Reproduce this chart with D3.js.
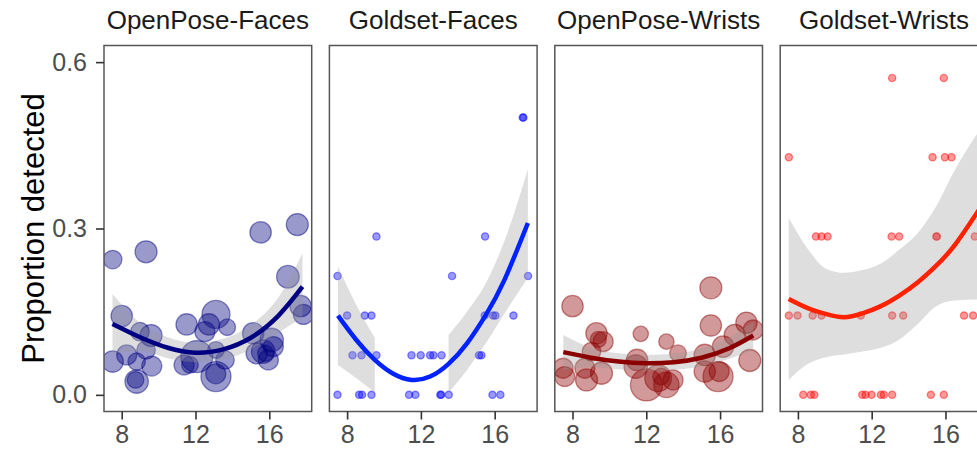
<!DOCTYPE html>
<html>
<head>
<meta charset="utf-8">
<script src="https://cdn.jsdelivr.net/npm/d3@7"></script>
<style>
  html, body { margin: 0; padding: 0; background: #ffffff; }
  svg { display: block; }
</style>
</head>
<body>
<svg id="chart" width="977" height="452"></svg>
<script>
// ---------------- DATA ----------------
const panelNames = ["OpenPose-Faces", "Goldset-Faces", "OpenPose-Wrists", "Goldset-Wrists"];
const xTicks = [8, 12, 16];
const yTicks = [0.0, 0.3, 0.6];
const yTickLabels = ["0.0", "0.3", "0.6"];
const yTitle = "Proportion detected";

// OpenPose-Faces points (age, proportion, n)
const opFacesX = [7.51, 9.32, 15.53, 17.52, 17.01, 8.0, 17.7, 17.85, 8.99, 9.59, 7.51, 8.27, 8.81, 9.32, 9.63, 8.81, 8.75, 11.52, 13.11, 12.73, 12.51, 13.72, 12.07, 11.38, 11.70, 13.11, 13.60, 13.11, 13.10, 15.13, 16.13, 15.32, 15.67, 15.95, 16.22, 15.80];
const opFacesY = [0.244, 0.258, 0.293, 0.307, 0.213, 0.142, 0.160, 0.145, 0.114, 0.107, 0.060, 0.072, 0.060, 0.081, 0.052, 0.024, 0.027, 0.127, 0.145, 0.127, 0.114, 0.122, 0.069, 0.054, 0.054, 0.081, 0.063, 0.033, 0.038, 0.111, 0.099, 0.075, 0.078, 0.063, 0.087, 0.075];
const opFacesN = [86, 121, 114, 121, 128, 114, 114, 100, 86, 121, 114, 100, 76, 86, 100, 137, 69, 114, 196, 114, 100, 69, 256, 100, 69, 69, 86, 225, 100, 114, 137, 114, 137, 100, 100, 64];

// Goldset-Faces points
const gsFacesX = [7.48, 8.65, 8.81, 9.32, 11.36, 11.70, 13.05, 13.10, 13.51, 15.88, 16.31,
                  8.29, 8.78, 9.59, 11.49, 11.99, 12.50, 12.68, 13.12, 15.15, 15.28,
                  8.0, 8.96, 9.32, 15.46, 15.91, 16.04, 17.02,
                  7.48, 13.69, 17.81,
                  9.59, 15.48,
                  17.52, 17.56];
const gsFacesY = [0, 0, 0, 0, 0, 0, 0, 0, 0, 0, 0,
                  0.0714, 0.0714, 0.0714, 0.0714, 0.0714, 0.0714, 0.0714, 0.0714, 0.0714, 0.0714,
                  0.1429, 0.1429, 0.1429, 0.1429, 0.1429, 0.1429, 0.1429,
                  0.2143, 0.2143, 0.2143,
                  0.2857, 0.2857,
                  0.5, 0.5];

// OpenPose-Wrists points
const opWristsX = [8.0, 15.50, 15.50, 11.70, 13.09, 9.30, 9.66, 9.40, 13.72, 17.43, 17.79, 16.80, 16.16, 15.17, 17.61, 9.03, 7.49, 7.58, 8.67, 8.76, 9.57, 11.50, 11.43, 12.01, 12.64, 13.09, 13.45, 12.80, 15.17, 15.89, 15.95];
const opWristsY = [0.160, 0.193, 0.125, 0.110, 0.096, 0.111, 0.096, 0.100, 0.075, 0.130, 0.117, 0.108, 0.087, 0.072, 0.062, 0.078, 0.048, 0.033, 0.048, 0.027, 0.039, 0.063, 0.051, 0.018, 0.030, 0.018, 0.027, 0.033, 0.042, 0.033, 0.042];
const opWristsN = [114, 121, 114, 59, 59, 114, 100, 64, 69, 114, 100, 114, 114, 114, 121, 86, 100, 100, 100, 121, 121, 114, 137, 256, 177, 161, 100, 69, 114, 225, 100];

// Goldset-Wrists points
const gsWristsX = [8.29, 8.70, 8.89, 11.49, 11.67, 11.99, 12.50, 12.66, 13.11, 15.21, 15.91,
                   7.51, 7.98, 8.80, 9.28, 11.41, 13.11, 13.71, 17.01, 17.50, 18.05,
                   8.98, 9.28, 9.61, 13.08, 13.49, 15.50, 15.54, 17.59,
                   7.51, 15.30, 15.97, 16.33,
                   13.11, 15.91];
const gsWristsY = [0, 0, 0, 0, 0, 0, 0, 0, 0, 0, 0,
                   0.1429, 0.1429, 0.1429, 0.1429, 0.1429, 0.1429, 0.1429, 0.1429, 0.1429, 0.1429,
                   0.2857, 0.2857, 0.2857, 0.2857, 0.2857, 0.2857, 0.2857, 0.2857,
                   0.4286, 0.4286, 0.4286, 0.4286,
                   0.5714, 0.5714];

// Smooth fits: x grid, fit, lower, upper
const opFacesFitX = [7.5, 9, 10.5, 12, 13.5, 15, 16.5, 17.8];
const opFacesFit  = [0.128, 0.104, 0.085, 0.076, 0.082, 0.103, 0.143, 0.195];
const opFacesLo   = [0.075, 0.079, 0.066, 0.059, 0.064, 0.082, 0.112, 0.140];
const opFacesHi   = [0.182, 0.130, 0.104, 0.094, 0.101, 0.126, 0.176, 0.255];

const gsFacesFitX = [7.5, 8.5, 9.5, 10.5, 11.5, 12.5, 13.5, 14.5, 15.5, 16.5, 17.8];
const gsFacesFit  = [0.143, 0.099, 0.063, 0.038, 0.027, 0.033, 0.056, 0.093, 0.143, 0.205, 0.310];
const gsFacesLo   = [0.054, 0.030, 0.005, -0.012, -0.015, -0.010, 0.004, 0.045, 0.092, 0.145, 0.211];
const gsFacesHi   = [0.232, 0.162, 0.103, 0.080, 0.070, 0.078, 0.108, 0.150, 0.200, 0.275, 0.407];

const opWristsFitX = [7.5, 9, 10.5, 12, 13.5, 15, 16.5, 17.8];
const opWristsFit  = [0.077, 0.067, 0.060, 0.057, 0.059, 0.067, 0.084, 0.107];
const opWristsLo   = [0.046, 0.050, 0.046, 0.043, 0.045, 0.051, 0.065, 0.082];
const opWristsHi   = [0.108, 0.085, 0.075, 0.072, 0.074, 0.084, 0.104, 0.132];

const gsWristsFitX = [7.5, 8.5, 9.5, 10.5, 11.5, 12.5, 13.5, 14.5, 15.5, 16.5, 17.8];
const gsWristsFit  = [0.173, 0.157, 0.146, 0.140, 0.147, 0.160, 0.179, 0.203, 0.233, 0.270, 0.333];
const gsWristsLo   = [0.027, 0.055, 0.068, 0.073, 0.078, 0.085, 0.100, 0.128, 0.160, 0.170, 0.172];
const gsWristsHi   = [0.319, 0.265, 0.228, 0.220, 0.225, 0.237, 0.262, 0.292, 0.340, 0.405, 0.475];

const colors = ["#000080", "#0000ff", "#8b0000", "#ff0000"];
const lineColors = ["#000080", "#0022ff", "#8b0000", "#ff2200"];

// ---------------- BUILD ----------------
const zip = (xs, ys, ns) => xs.map((x, i) => ({x, y: ys[i], n: ns ? ns[i] : null}));
const fitRows = (xs, f, lo, hi) => xs.map((x, i) => ({x, fit: f[i], lo: lo[i], hi: hi[i]}));

const panels = [
  {name: panelNames[0], pts: zip(opFacesX, opFacesY, opFacesN), fit: fitRows(opFacesFitX, opFacesFit, opFacesLo, opFacesHi)},
  {name: panelNames[1], pts: zip(gsFacesX, gsFacesY), fit: fitRows(gsFacesFitX, gsFacesFit, gsFacesLo, gsFacesHi)},
  {name: panelNames[2], pts: zip(opWristsX, opWristsY, opWristsN), fit: fitRows(opWristsFitX, opWristsFit, opWristsLo, opWristsHi)},
  {name: panelNames[3], pts: zip(gsWristsX, gsWristsY), fit: fitRows(gsWristsFitX, gsWristsFit, gsWristsLo, gsWristsHi)}
];

const svg = d3.select("#chart");
const font = "'Liberation Sans', Arial, Helvetica, sans-serif";

const panelLeft0 = 104, panelW = 207.7, panelStep = 225.4;
const panelTop = 45.5, panelBottom = 411.5;

const y = d3.scaleLinear().domain([-0.03, 0.63]).range([panelBottom, panelTop]);
const rScale = d3.scaleSqrt().domain([0, 256]).range([0, 16]);
const yLimits = [0, 0.6];

const defs = svg.append("defs");

panels.forEach((p, i) => {
  const left = panelLeft0 + i * panelStep;
  const x = d3.scaleLinear().domain([7.04, 18.3]).range([left, left + panelW]);

  const clipId = "clip" + i;
  defs.append("clipPath").attr("id", clipId)
    .append("rect").attr("x", left).attr("y", panelTop)
    .attr("width", panelW).attr("height", panelBottom - panelTop);

  const g = svg.append("g");
  const inner = g.append("g").attr("clip-path", `url(#${clipId})`);

  // points
  inner.append("g").selectAll("circle").data(p.pts).join("circle")
    .attr("cx", d => x(d.x))
    .attr("cy", d => y(d.y))
    .attr("r", d => d.n != null ? rScale(d.n) : 3.6)
    .attr("fill", colors[i])
    .attr("fill-opacity", 0.4)
    .attr("stroke", colors[i])
    .attr("stroke-opacity", 0.45)
    .attr("stroke-width", 1.3);

  // ribbon
  const area = d3.area()
    .defined(d => d.lo >= yLimits[0] && d.hi <= yLimits[1])
    .x(d => x(d.x)).y0(d => y(d.lo)).y1(d => y(d.hi))
    .curve(d3.curveMonotoneX);
  inner.append("path").datum(p.fit)
    .attr("d", area)
    .attr("fill", "#999999").attr("fill-opacity", 0.32);

  // fit line
  const line = d3.line().x(d => x(d.x)).y(d => y(d.fit)).curve(d3.curveNatural);
  inner.append("path").datum(p.fit)
    .attr("d", line)
    .attr("fill", "none")
    .attr("stroke", lineColors[i])
    .attr("stroke-width", 4.5)
    .attr("stroke-linecap", "butt");

  // border
  g.append("rect").attr("x", left).attr("y", panelTop)
    .attr("width", panelW).attr("height", panelBottom - panelTop)
    .attr("fill", "none").attr("stroke", "#555555").attr("stroke-width", 1.5);

  // x axis
  const xAxis = d3.axisBottom(x).tickValues(xTicks).tickSize(8).tickPadding(6).tickFormat(d3.format("d"));
  const ax = g.append("g").attr("transform", `translate(0,${panelBottom})`).call(xAxis);
  ax.select(".domain").remove();
  ax.selectAll(".tick line").attr("stroke", "#333333").attr("stroke-width", 1.6);
  ax.selectAll(".tick text").attr("font-family", font).attr("font-size", 25).attr("fill", "#4d4d4d")
    .attr("dy", "0.71em");

  // strip title
  g.append("text").attr("x", left + panelW / 2).attr("y", 29)
    .attr("text-anchor", "middle").attr("font-family", font).attr("font-size", 26)
    .attr("fill", "#1a1a1a").text(p.name);

  // y axis on first panel
  if (i === 0) {
    const yAxis = d3.axisLeft(y).tickValues(yTicks).tickSize(8).tickPadding(9)
      .tickFormat((d, k) => yTickLabels[k]);
    const ay = g.append("g").attr("transform", `translate(${left},0)`).call(yAxis);
    ay.select(".domain").remove();
    ay.selectAll(".tick line").attr("stroke", "#333333").attr("stroke-width", 1.6);
    ay.selectAll(".tick text").attr("font-family", font).attr("font-size", 25).attr("fill", "#4d4d4d");
  }
});

// y title
svg.append("text")
  .attr("transform", `translate(44,${(panelTop + panelBottom) / 2}) rotate(-90)`)
  .attr("text-anchor", "middle")
  .attr("font-family", font).attr("font-size", 31).attr("fill", "#000000")
  .text(yTitle);
</script>
</body>
</html>
